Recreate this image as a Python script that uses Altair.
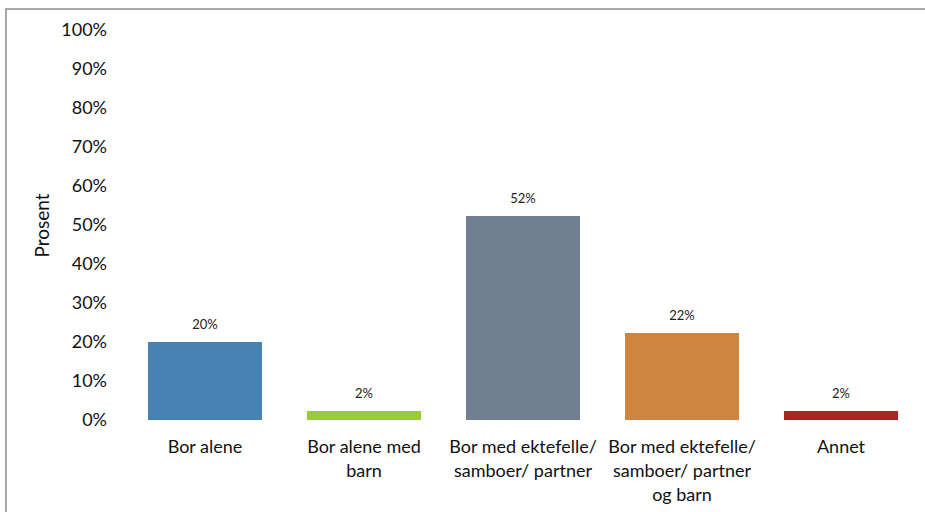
import altair as alt
import pandas as pd

categories = [
    "Bor alene",
    "Bor alene med\nbarn",
    "Bor med ektefelle/\nsamboer/ partner",
    "Bor med ektefelle/\nsamboer/ partner\nog barn",
    "Annet",
]
values = [0.20, 0.023, 0.523, 0.223, 0.023]
value_labels = ["20%", "2%", "52%", "22%", "2%"]
y_ticks = [0.0, 0.1, 0.2, 0.3, 0.4, 0.5, 0.6, 0.7, 0.8, 0.9, 1.0]
colors = ["#4682B4", "#9ACD32", "#708090", "#CD853F", "#B22222"]

df = pd.DataFrame({"kategori": categories, "andel": values, "etikett": value_labels})

FONT = "Lato"

x_scale = alt.Scale(paddingInner=0.283, paddingOuter=0.1415)
y_scale = alt.Scale(domain=[0, 1], nice=False)

x_enc = alt.X(
    "kategori:N",
    sort=categories,
    title=None,
    scale=x_scale,
    axis=alt.Axis(
        labelAngle=0,
        labelExpr="split(datum.label, '\\n')",
        labelLineHeight=24,
        labelFontSize=18,
        labelFont=FONT,
        labelColor="#111111",
        labelPadding=18,
        labelBaseline="top",
        labelOverlap=False,
        labelBound=False,
        ticks=False,
        tickSize=0,
        domain=False,
        grid=False,
    ),
)

y_enc = alt.Y(
    "andel:Q",
    title="Prosent",
    scale=y_scale,
    axis=alt.Axis(
        values=y_ticks,
        format=".0%",
        labelFontSize=18,
        labelFont=FONT,
        labelColor="#111111",
        labelPadding=19,
        labelOverlap=False,
        labelBound=False,
        labelFlush=False,
        ticks=False,
        tickSize=0,
        domain=False,
        grid=False,
        titleFont=FONT,
        titleFontSize=19,
        titleFontWeight="normal",
        titleColor="#111111",
        titlePadding=8,
    ),
)

base = alt.Chart(df).encode(x=x_enc, y=y_enc)

bars = base.mark_bar().encode(
    color=alt.Color("kategori:N", sort=categories,
                    scale=alt.Scale(domain=categories, range=colors), legend=None),
)

text = base.mark_text(
    baseline="bottom", dy=-10, fontSize=13, font=FONT, color="#222222"
).encode(
    text="etikett:N",
)

frame = alt.Chart(df).mark_rect(
    fill=None, fillOpacity=0, stroke="#8c8c8c", strokeWidth=1.5
).encode(
    x=alt.value(-119.5), x2=alt.value(830), y=alt.value(-21), y2=alt.value(520)
).transform_filter("datum.kategori == 'Annet'")

chart = alt.layer(frame, bars, text).properties(
    width=795,
    height=390,
    autosize=alt.AutoSizeParams(type="none"),
    padding={"left": 125.5, "top": 30, "right": 4.5, "bottom": 92},
    background="white",
).configure_view(stroke=None)

chart.save("out.html", embed_options={"renderer": "svg", "actions": False})
